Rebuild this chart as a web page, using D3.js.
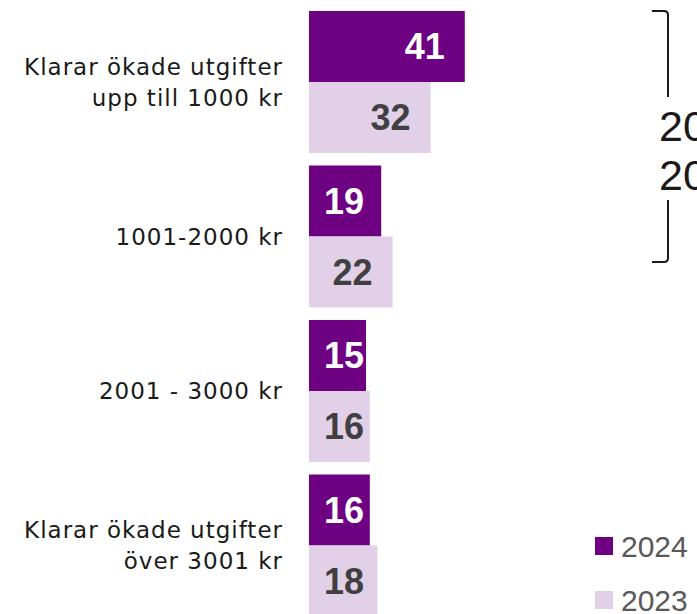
<!DOCTYPE html>
<html lang="sv">
<head>
	<meta charset="UTF-8">
	<script src="https://d3js.org/d3.v7.min.js" charset="utf-8"></script>
	<title>Klarar ökade utgifter</title>
</head>
<body style="margin:0">
</body>
<style>
body { background: #fff; }
.cat { font: 23px "DejaVu Sans", sans-serif; fill: #1a1a1a; letter-spacing: 1px; }
.val { font: bold 36px "Liberation Sans", Arial, sans-serif; }
.legend text { font: 30px "Liberation Sans", Arial, sans-serif; fill: #595959; }
.side { font: 43px "Liberation Sans", Arial, sans-serif; fill: #1a1a1a; }
</style>
<script>

// data
var categories = ["Klarar ökade utgifter|upp till 1000 kr", "1001-2000 kr", "2001 - 3000 kr", "Klarar ökade utgifter|över 3001 kr"];
var series = ["2024", "2023"];
var values2024 = [41, 19, 15, 16];
var values2023 = [32, 22, 16, 18];
var sideLabels = ["2024", "2023"];

var colors = { "2024": "#6e0082", "2023": "#e2cfe8" };
var textColors = { "2024": "#ffffff", "2023": "#404040" };

var width = 697,
    height = 614;

var svg = d3.select("body").append("svg")
    .attr("width", width)
    .attr("height", height);

var x = d3.scaleLinear()
    .domain([0, 50])
    .range([309, 499]);

var y = d3.scaleBand()
    .domain(categories)
    .range([4.75, 622.75])
    .paddingInner(0.081)
    .paddingOuter(0.0405);

var y1 = d3.scaleBand()
    .domain(series)
    .range([0, y.bandwidth()]);

var rows = categories.map(function(c, i) {
  return { cat: c, vals: [
    { s: "2024", v: values2024[i] },
    { s: "2023", v: values2023[i] }
  ] };
});

var group = svg.selectAll("g.group")
    .data(rows)
  .enter().append("g")
    .attr("class", "group")
    .attr("transform", function(d) { return "translate(0," + y(d.cat) + ")"; });

group.selectAll("rect")
    .data(function(d) { return d.vals; })
  .enter().append("rect")
    .attr("x", x(0))
    .attr("y", function(d) { return y1(d.s); })
    .attr("width", function(d) { return x(d.v) - x(0); })
    .attr("height", y1.bandwidth())
    .attr("fill", function(d) { return colors[d.s]; });

// value labels, right aligned inside bar, with a minimum position
group.selectAll("text.val")
    .data(function(d) { return d.vals; })
  .enter().append("text")
    .attr("class", "val")
    .attr("text-anchor", "end")
    .attr("x", function(d) { return Math.max(x(d.v) - 20, x(0) + 55); })
    .attr("y", function(d) { return y1(d.s) + y1.bandwidth() / 2 + 13; })
    .attr("fill", function(d) { return textColors[d.s]; })
    .text(function(d) { return d.v; });

// category labels
group.append("text")
    .attr("class", "cat")
    .attr("text-anchor", "end")
    .attr("transform", "translate(283," + (y.bandwidth() / 2) + ")")
    .each(function(d) {
      var lines = d.cat.split("|");
      var t = d3.select(this);
      lines.forEach(function(l, i) {
        t.append("tspan")
          .attr("x", 0)
          .attr("y", (i - (lines.length - 1) / 2) * 31 + 8)
          .text(l);
      });
    });

// bracket at the right edge (cut off)
var br = svg.append("g").attr("fill", "none").attr("stroke", "#1a1a1a").attr("stroke-width", 2);
br.append("path").attr("d", "M652,11 H664 Q668,11 668,15 V97");
br.append("path").attr("d", "M668,200 V258 Q668,262 664,262 H652");

svg.selectAll("text.side")
    .data(sideLabels)
  .enter().append("text")
    .attr("class", "side")
    .attr("x", 659)
    .attr("y", function(d, i) { return 141 + i * 49; })
    .text(function(d) { return d; });

// legend
var legend = svg.append("g").attr("class", "legend");
var li = legend.selectAll("g")
    .data(series)
  .enter().append("g")
    .attr("transform", function(d, i) { return "translate(595," + (537 + i * 54) + ")"; });

li.append("rect")
    .attr("width", 18)
    .attr("height", 18)
    .attr("fill", function(d) { return colors[d]; });

li.append("text")
    .attr("x", 26)
    .attr("y", 20)
    .text(function(d) { return d; });

</script>
</html>
